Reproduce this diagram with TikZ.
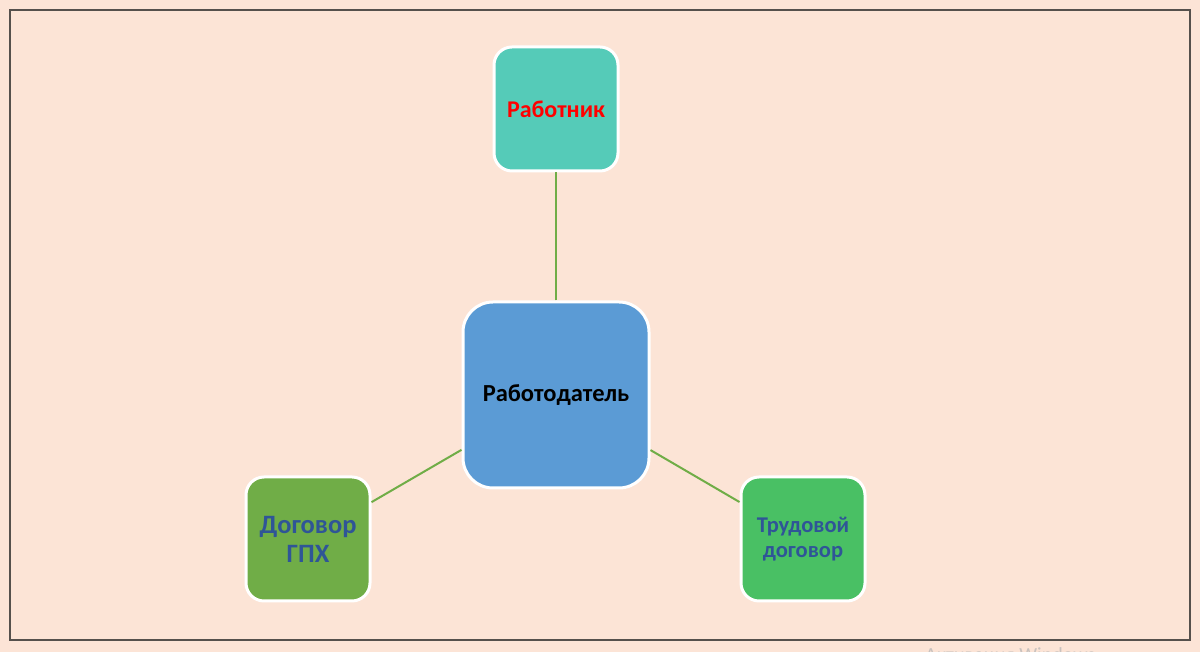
\documentclass[tikz,border=0pt]{standalone}
\usepackage{fontspec}
\setmainfont{Carlito}
\usetikzlibrary{positioning}
\definecolor{bgpeach}{HTML}{FCE4D6}
\definecolor{framegray}{HTML}{55504C}
\definecolor{boss}{HTML}{5B9BD5}
\definecolor{worker}{HTML}{55CBB8}
\definecolor{gph}{HTML}{70AD47}
\definecolor{labour}{HTML}{49C064}
\definecolor{linkgreen}{HTML}{70AD47}
\definecolor{textblue}{HTML}{2F5597}
\definecolor{marky}{HTML}{C9C2BE}

\begin{document}
\begin{tikzpicture}[
    x=1pt,
    y=1pt
]

\tikzstyle{block}=[
    rectangle,
    rounded corners=18pt,
    draw=white,
    line width=3pt,
    minimum size=124pt,
    inner sep=2pt,
    align=center,
    font=\bfseries
]
\tikzstyle{link}=[
    draw=linkgreen,
    line width=2pt
]

\fill[bgpeach] (0,0) rectangle (1200,652);
\clip (0,0) rectangle (1200,652);
\draw[framegray, line width=1.6pt] (10,12) rectangle (1190,642);

\node[block, fill=boss, minimum size=186pt, rounded corners=30pt,
      font=\bfseries\fontsize{24.5}{28}\selectfont, text=black] (boss) at (556,257) {Работодатель};
\node[block, fill=worker, font=\bfseries\fontsize{24}{28}\selectfont, text=red] (worker) at (556,543) {Работник};
\node[block, fill=gph, font=\bfseries\fontsize{26.5}{29}\selectfont, text=textblue] (gph) at (308,113) {Договор\\ГПХ};
\node[block, fill=labour, font=\bfseries\fontsize{22.5}{25}\selectfont, text=textblue] (labour) at (803,113) {Трудовой\\договор};

\draw[link] (boss) -- (worker);
\draw[link] (boss) -- (gph);
\draw[link] (boss) -- (labour);

\node[anchor=base west, text=marky, font=\fontsize{20}{24}\selectfont, inner sep=0pt] (winmark) at (925,-10) {Активация Windows};

\end{tikzpicture}
\end{document}
